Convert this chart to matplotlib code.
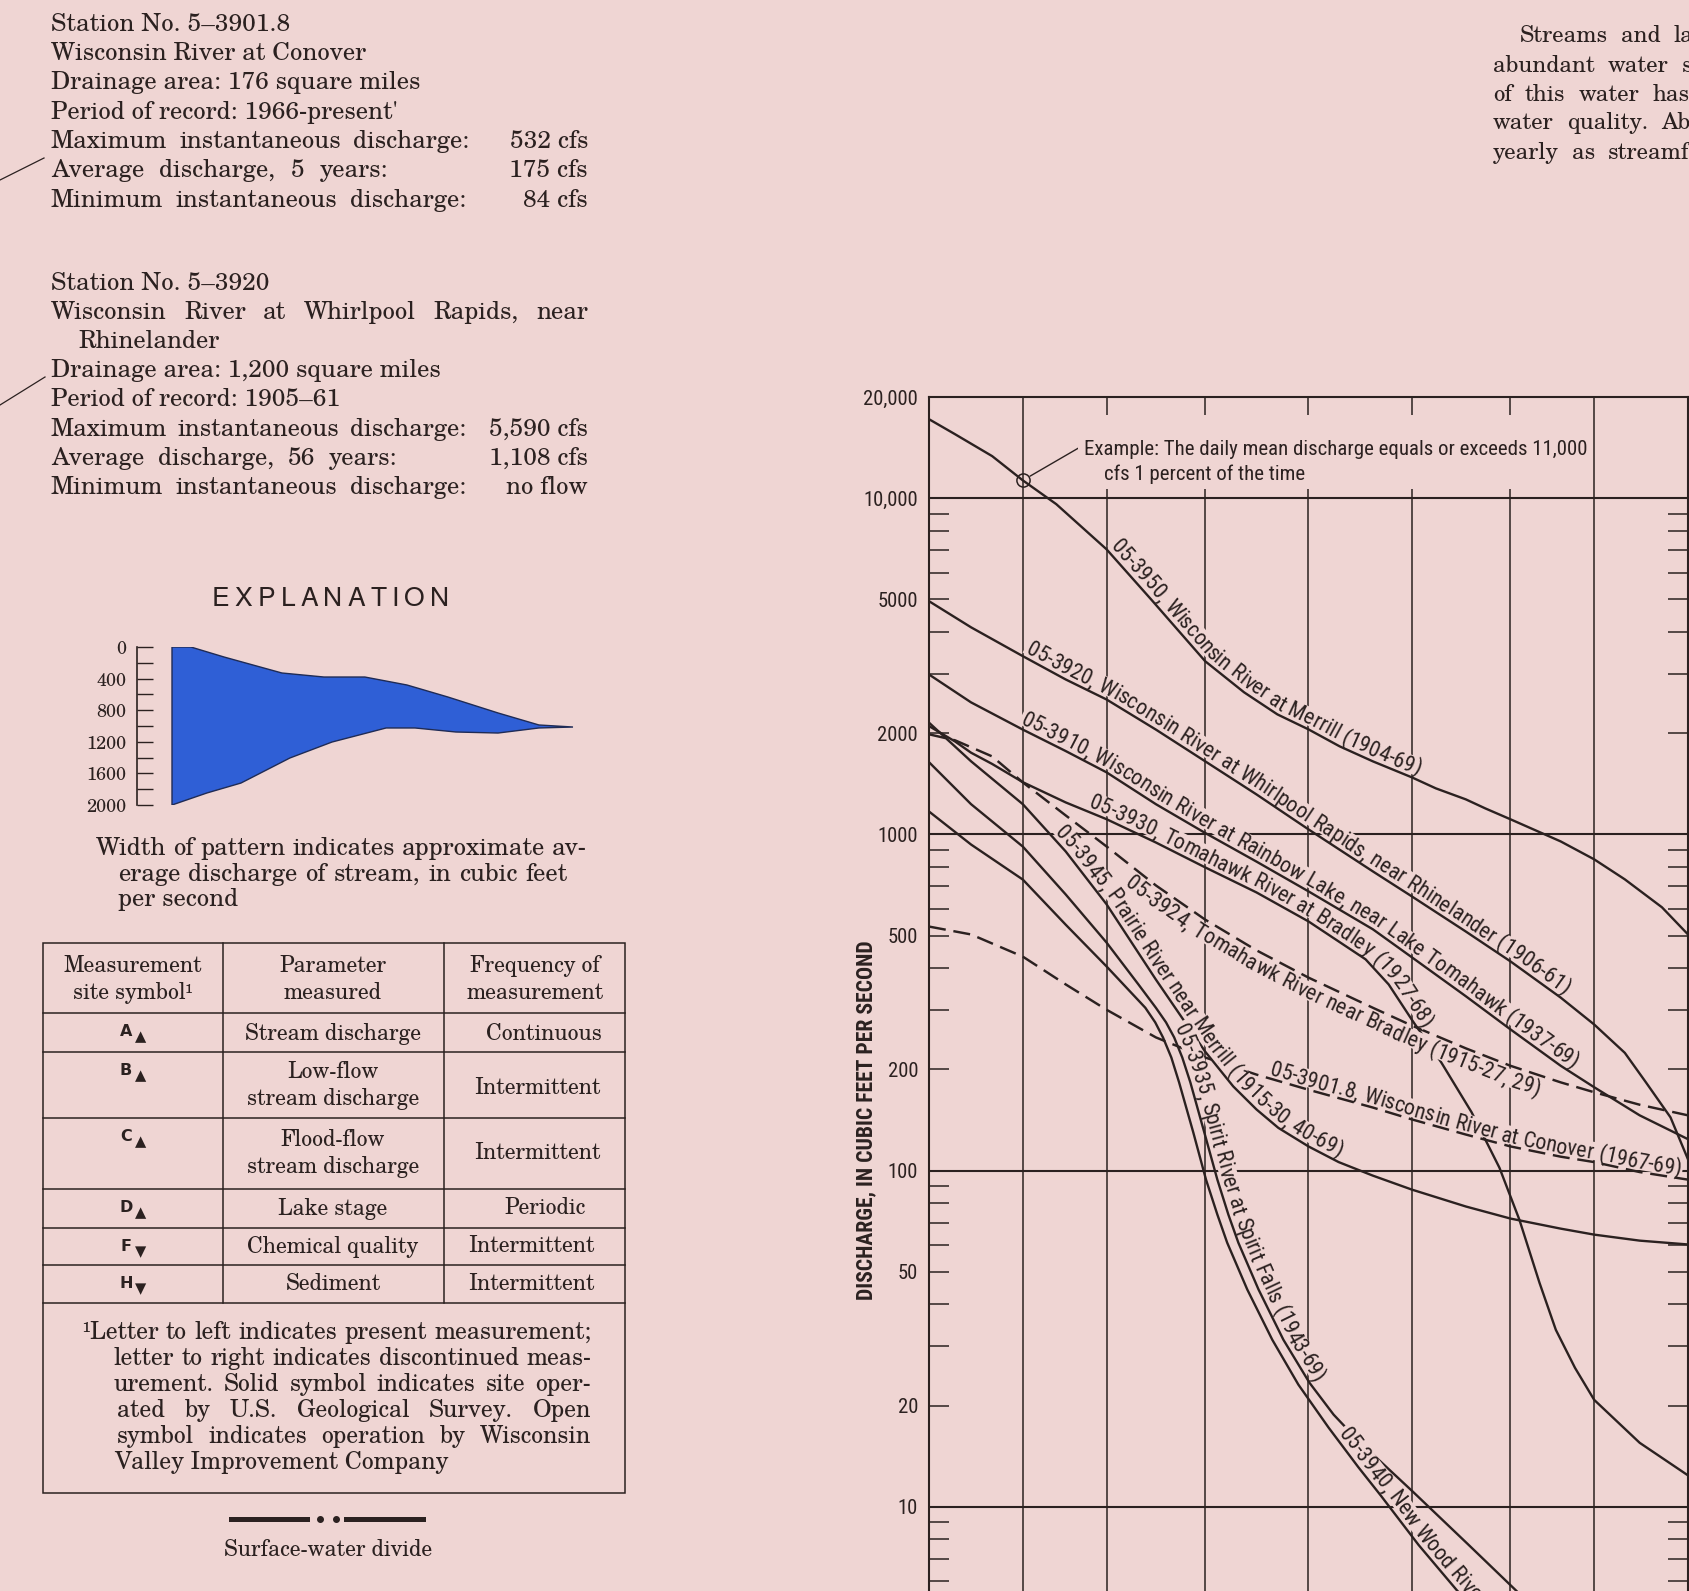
import math
import numpy as np
import matplotlib
matplotlib.use('Agg')
import matplotlib.pyplot as plt
from matplotlib import font_manager as fm
from matplotlib.font_manager import FontProperties
from matplotlib.lines import Line2D
from matplotlib.patches import Rectangle, Polygon
from matplotlib.ticker import LogLocator, NullFormatter, NullLocator

W, H = 1690, 1591
BG = '#efd5d3'
INK = '#2b2120'
BLUE = '#2f5fd6'

# ---------------- chart data ----------------
# percent of time discharge equalled or exceeded  /  daily mean discharge (cfs)
grid_pct = [1, 5, 20, 50, 80, 95, 99]
ytick_vals = [10, 20, 50, 100, 200, 500, 1000, 2000, 5000, 10000, 20000]
ytick_labels = ['10', '20', '50', '100', '200', '500', '1000', '2000', '5000', '10,000', '20,000']

pct_3950 = [0.1, 0.2, 0.5, 1, 2, 5, 10, 20, 30, 40, 50, 60, 70, 80, 85, 90, 92.5, 95, 98, 99, 99.5, 99.8, 99.9]
q_3950 = [17180, 15500, 13340, 11300, 9600, 7050, 5000, 3275, 2646, 2275, 2053, 1828, 1649, 1478, 1371, 1271, 1195,
          1109, 953, 843, 735, 607, 504]

pct_3920 = [0.1, 0.3, 1, 2.4, 5, 10.7, 20, 33.6, 50, 70, 80, 90, 95, 98, 99, 99.5, 99.7, 99.84, 99.9]
q_3920 = [4940, 4130, 3390, 2890, 2520, 2050, 1650, 1315, 1035, 776, 654, 514, 419, 327, 272, 224, 183, 144, 108]

pct_3910 = [0.1, 0.3, 1, 2.4, 5, 10.7, 20, 33.6, 50, 70, 80, 90, 95, 98, 99, 99.65, 99.9]
q_3910 = [2990, 2470, 2050, 1770, 1530, 1230, 1010, 830, 677, 522, 431, 330, 263, 205, 177, 146, 124]

pct_3930 = [0.1, 0.2, 0.3, 0.5, 1, 2.4, 5, 10.7, 20, 33.6, 50, 67.9, 74.3, 80, 86, 90.8, 94, 95.7, 97, 97.8, 98.5,
            99, 99.65, 99.9]
q_3930 = [2100, 1890, 1750, 1620, 1430, 1245, 1110, 946, 798, 672, 551, 425, 358, 281, 210, 149, 102, 71.5, 46.4,
          33.6, 25.9, 20.8, 15.5, 12.4]

pct_3924 = [0.1, 0.2, 0.5, 1, 2.4, 5, 10.7, 20, 33.6, 50, 70, 80, 90, 95, 98, 99, 99.65, 99.9]
q_3924 = [1985, 1905, 1706, 1428, 1139, 921, 705, 558, 452, 375, 305, 270, 231, 205, 183, 171, 157, 146]

pct_3945 = [0.1, 0.3, 1, 2.4, 5, 10.7, 20, 27, 33.6, 40.3, 50, 59.7, 70, 80, 90, 95, 98, 99, 99.65, 99.9]
q_3945 = [2150, 1650, 1230, 890, 620, 370, 226, 178, 152, 134, 118, 106, 96.6, 87.8, 78.2, 72, 67.2, 64.5, 61.9,
          60.3]

pct_3935 = [0.1, 0.3, 1, 2.4, 5, 8.3, 10.7, 12.3, 13.7, 15.2, 16.8, 19.8, 22.9, 25.7, 28.4, 34.2, 41.9, 50.3, 58.1,
            65.8, 80.2, 90.4, 95.4, 97.5]
q_3935 = [1640, 1230, 920, 663, 477, 358, 305, 276, 249, 217, 183, 130, 94, 74, 61, 44.3, 31.4, 23.4, 18.8, 15.7,
          11.1, 7.7, 5.66, 4.5]

pct_3940 = [0.1, 0.3, 1, 2.4, 5, 9.2, 10.6, 11.8, 13.2, 14.6, 17.4, 20.2, 22.9, 25.4, 30.9, 38.4, 46.7, 56.5, 65.8,
            72.2, 81.5, 88.6, 93]
q_3940 = [1170, 933, 734, 539, 405, 305, 276, 249, 217, 183, 130, 94, 74, 61, 44.3, 31.4, 23.1, 17.2, 13.1, 10.8,
          7.7, 5.66, 4.4]

pct_3901 = [0.1, 0.3, 1, 2.4, 5, 10.7, 20, 33.6, 50, 70, 80, 90, 95, 98, 99, 99.65, 99.9]
q_3901 = [532, 504, 433, 358, 301, 249, 217, 193, 174, 154, 142, 128, 118, 110, 106, 99, 94]

example_pct, example_q = 1, 11300

# explanation pattern (width of stream, in cfs on the scale)
pat_x_top = [0, 0.047, 0.13, 0.274, 0.379, 0.481, 0.586, 0.688, 0.813, 0.915, 1.0]
pat_top = [0, 0, 127, 329, 380, 380, 481, 633, 835, 987, 1013]
pat_x_bot = [0, 0.087, 0.172, 0.294, 0.399, 0.534, 0.606, 0.708, 0.813, 0.915, 1.0]
pat_bot = [2000, 1848, 1722, 1405, 1203, 1025, 1025, 1076, 1089, 1025, 1013]
scale_major = [0, 400, 800, 1200, 1600, 2000]
scale_minor = [200, 600, 1000, 1400, 1800]

# ---------------- probability scale ----------------
A_ = [-3.969683028665376e+01, 2.209460984245205e+02, -2.759285104469687e+02,
      1.383577518672690e+02, -3.066479806614716e+01, 2.506628277459239e+00]
B_ = [-5.447609879822406e+01, 1.615858368580409e+02, -1.556989798598866e+02,
      6.680131188771972e+01, -1.328068155288572e+01]
C_ = [-7.784894002430293e-03, -3.223964580411365e-01, -2.400758277161838e+00,
      -2.549671010422504e+00, 4.374664141464968e+00, 2.938163982698783e+00]
D_ = [7.784695709041462e-03, 3.224671290700398e-01, 2.445134137142996e+00, 3.754408661907416e+00]
PLOW = 0.02425


def ppf(p):
    p = np.clip(np.asarray(p, dtype=float), 1e-10, 1 - 1e-10)
    shape = p.shape
    p = np.atleast_1d(p).ravel()
    out = np.zeros_like(p)
    lo = p < PLOW
    hi = p > 1 - PLOW
    mid = ~(lo | hi)
    q = p[mid] - 0.5
    r = q * q
    out[mid] = ((((((A_[0] * r + A_[1]) * r + A_[2]) * r + A_[3]) * r + A_[4]) * r + A_[5]) * q /
                (((((B_[0] * r + B_[1]) * r + B_[2]) * r + B_[3]) * r + B_[4]) * r + 1))
    for mask, sgn, pp in ((lo, 1, p[lo]), (hi, -1, 1 - p[hi])):
        qq = np.sqrt(-2 * np.log(pp))
        out[mask] = sgn * ((((((C_[0] * qq + C_[1]) * qq + C_[2]) * qq + C_[3]) * qq + C_[4]) * qq + C_[5]) /
                           ((((D_[0] * qq + D_[1]) * qq + D_[2]) * qq + D_[3]) * qq + 1))
    return out.reshape(shape)


erfc_v = np.vectorize(math.erfc, otypes=[float])


def fwd(x):
    return ppf(np.asarray(x, dtype=float) / 100.0)


def inv(z):
    return 100.0 * 0.5 * erfc_v(-np.asarray(z, dtype=float) / math.sqrt(2))


# ---------------- fonts ----------------
fig = plt.figure(figsize=(W / 100, H / 100), dpi=100, facecolor=BG)
renderer = fig.canvas.get_renderer()

names = sorted({f.name for f in fm.fontManager.ttflist})


def pick(cands, default):
    for c in cands:
        if c in names:
            return c
    return default


COND = pick(['Roboto Condensed', 'Liberation Sans Narrow', 'Archivo Narrow', 'PT Sans Narrow'], 'DejaVu Sans')
SERIF = pick(['TeX Gyre Schola', 'C059', 'Century Schoolbook L', 'DejaVu Serif'], 'DejaVu Serif')
SANS = pick(['TeX Gyre Heros', 'Nimbus Sans', 'Liberation Sans'], 'DejaVu Sans')


def fp(family, size, weight='normal'):
    return FontProperties(family=family, size=size, weight=weight)


def tw(s, prop):
    return renderer.get_text_width_height_descent(s, prop, ismath=False)[0]


def cap_h(prop):
    return renderer.get_text_width_height_descent('H', prop, ismath=False)[1]


def fit(s, family, target, weight='normal'):
    return 20.0 * target / tw(s, fp(family, 20, weight))


def put(x, y, s, prop, ha='left', va='baseline', **kw):
    return fig.text(x / W, 1 - y / H, s, fontproperties=prop, ha=ha, va=va, color=INK, **kw)


def justify(words, x0, x1, y, prop):
    widths = [tw(w, prop) for w in words]
    space = tw('a a', prop) - tw('aa', prop)
    gap = space
    if len(words) > 1:
        gap = max(space, (x1 - x0 - sum(widths)) / (len(words) - 1))
    x = x0
    for w, wd in zip(words, widths):
        put(x, y, w, prop)
        x += wd + gap


# ---------------- main chart ----------------
ax = fig.add_axes([929 / W, 1 - 1843 / H, (1688 - 929) / W, (1843 - 397) / H])
ax.set_facecolor('none')
ax.set_xscale('function', functions=(fwd, inv))
ax.set_yscale('log')
ax.set_xlim(0.1, 99.9)
ax.set_ylim(1, 20000)

for p in grid_pct:
    ax.axvline(p, color=INK, lw=1.1, zorder=1)
for v in [10, 100, 1000, 10000]:
    ax.axhline(v, color=INK, lw=1.5, zorder=1)

solid = [(pct_3950, q_3950), (pct_3920, q_3920), (pct_3910, q_3910), (pct_3930, q_3930),
         (pct_3945, q_3945), (pct_3935, q_3935), (pct_3940, q_3940)]
dashed = [(pct_3924, q_3924), (pct_3901, q_3901)]
for pc, q in solid:
    ax.plot(pc, q, color=INK, lw=1.7, solid_joinstyle='round', zorder=2)
for pc, q in dashed:
    ax.plot(pc, q, color=INK, lw=1.75, dashes=(7, 3.2), zorder=2)

ax.plot([example_pct], [example_q], marker='o', ms=9.5, mfc='none', mec=INK, mew=1.1, zorder=4)
ax.annotate('', xy=(example_pct, example_q), xycoords='data', xytext=(1082 / W, 1 - 446 / H),
            textcoords='figure fraction',
            arrowprops=dict(arrowstyle='-', color=INK, lw=1.0, shrinkA=0, shrinkB=6))

for s in ['left', 'right', 'top']:
    ax.spines[s].set_color(INK)
    ax.spines[s].set_linewidth(1.5)
ax.spines['bottom'].set_visible(False)

tick_fs = fit('20,000', COND, 55)
tick_prop = fp(COND, tick_fs)
ax.set_xticks([])
ax.xaxis.set_minor_locator(NullLocator())
ax.set_yticks(ytick_vals, labels=ytick_labels, fontproperties=tick_prop, color=INK)
ax.yaxis.set_minor_locator(LogLocator(base=10, subs=np.arange(2, 10), numticks=60))
ax.yaxis.set_minor_formatter(NullFormatter())
ax.tick_params(axis='y', which='both', direction='in', left=True, right=True, length=14.4, width=1.1, color=INK)
ax.tick_params(axis='y', which='major', pad=7.9)

ylab_fs = fit('DISCHARGE, IN CUBIC FEET PER SECOND', COND, 359, weight='bold')
put(866, 1120, 'DISCHARGE, IN CUBIC FEET PER SECOND', fp(COND, ylab_fs, 'bold'),
    ha='center', va='center', rotation=90)

# example note
ex_fs = fit('Example: The daily mean discharge equals or exceeds 11,000', COND, 503)
ex_prop = fp(COND, ex_fs)
fig.add_artist(Rectangle((1078 / W, 1 - 489 / H), 512 / W, 74 / H, transform=fig.transFigure,
                         fc=BG, ec='none', zorder=2.5))
put(1084, 455, 'Example: The daily mean discharge equals or exceeds 11,000', ex_prop, zorder=4)
put(1104, 480, 'cfs 1 percent of the time', ex_prop, zorder=4)

# curve labels written along the curves
lab_fs = fit('05-3950, Wisconsin River at Merrill (1904-69)', COND, 392)
lab_prop = fp(COND, lab_fs)
LCAP = cap_h(lab_prop)


def curve_label(pc, q, label, start, side, gap=4.0):
    pts = ax.transData.transform(np.column_stack([pc, q]))
    d = np.hypot(np.diff(pts[:, 0]), np.diff(pts[:, 1]))
    s = np.concatenate([[0.0], np.cumsum(d)])
    x_start = ax.transData.transform([[start, 100.0]])[0, 0]
    s0 = np.interp(x_start, pts[:, 0], s)

    def pos(sv):
        return np.interp(sv, s, pts[:, 0]), np.interp(sv, s, pts[:, 1])

    def frame(sv):
        xa, ya = pos(sv - 10)
        xb, yb = pos(sv + 10)
        a = math.atan2(yb - ya, xb - xa)
        return a, -math.sin(a), math.cos(a)

    wx = tw('x', lab_prop)
    adv = [0.0] + [tw(label[:i] + 'x', lab_prop) - wx for i in range(1, len(label) + 1)]
    off = gap if side > 0 else -(gap + LCAP)
    mid = off + LCAP / 2
    sx, sy = [], []
    for sv in np.arange(s0 - 2, s0 + adv[-1] + 3, 2.0):
        px, py = pos(sv)
        a, nx, ny = frame(sv)
        sx.append((px + nx * mid) / W)
        sy.append((py + ny * mid) / H)
    fig.add_artist(Line2D(sx, sy, transform=fig.transFigure, color=BG, lw=(LCAP + 2) * 0.72,
                          solid_capstyle='butt', solid_joinstyle='round', zorder=3))
    for i, ch in enumerate(label):
        if ch == ' ':
            continue
        sc = s0 + (adv[i] + adv[i + 1]) / 2
        px, py = pos(sc)
        a, nx, ny = frame(sc)
        fig.text((px + nx * off) / W, (py + ny * off) / H, ch, rotation=math.degrees(a),
                 rotation_mode='anchor', ha='center', va='baseline', fontproperties=lab_prop,
                 color=INK, zorder=5)


curve_label(pct_3950, q_3950, '05-3950, Wisconsin River at Merrill (1904-69)', 5.0, 1)
curve_label(pct_3920, q_3920, '05-3920, Wisconsin River at Whirlpool Rapids, near Rhinelander (1906-61)', 1.0, 1)
curve_label(pct_3910, q_3910, '05-3910, Wisconsin River at Rainbow Lake, near Lake Tomahawk (1937-69)', 0.9, 1)
curve_label(pct_3930, q_3930, '05-3930, Tomahawk River at Bradley (1927-68)', 3.5, 1)
curve_label(pct_3924, q_3924, '05-3924, Tomahawk River near Bradley (1915-27, 29)', 8.0, -1)
curve_label(pct_3945, q_3945, '05-3945, Prairie River near Merrill (1915-30, 40-69)', 1.8, 1)
curve_label(pct_3935, q_3935, '05-3935, Spirit River at Spirit Falls (1943-69)', 13.0, 1)
curve_label(pct_3940, q_3940, '05-3940, New Wood River', 58.5, 1)
curve_label(pct_3901, q_3901, '05-3901.8, Wisconsin River at Conover (1967-69)', 37, 1, gap=3.0)

# ---------------- left column text ----------------
serif_fs = fit('Drainage area: 176 square miles', SERIF, 369)
sp = fp(SERIF, serif_fs)
scap = cap_h(sp)


def line(y, text, x0=51, x1=None, value=None):
    base = y + scap / 2
    if x1 is None:
        put(x0, base, text, sp)
    else:
        justify(text.split(), x0, x1, base, sp)
    if value:
        put(588, base, value, sp, ha='right')


line(21.7, 'Station No. 5–3901.8')
line(51, 'Wisconsin River at Conover')
line(80.3, 'Drainage area: 176 square miles')
line(109.7, "Period of record: 1966-present'")
line(139, 'Maximum instantaneous discharge:', x1=469, value='532 cfs')
line(168.3, 'Average discharge, 5 years:', x1=388, value='175 cfs')
line(197.7, 'Minimum instantaneous discharge:', x1=466, value='84 cfs')

line(281, 'Station No. 5–3920')
line(310, 'Wisconsin River at Whirlpool Rapids, near', x1=588)
line(339, 'Rhinelander', x0=78)
line(368, 'Drainage area: 1,200 square miles')
line(397, 'Period of record: 1905–61')
line(427, 'Maximum instantaneous discharge:', x1=466, value='5,590 cfs')
line(456, 'Average discharge, 56 years:', x1=397, value='1,108 cfs')
line(485, 'Minimum instantaneous discharge:', x1=466, value='no flow')

fig.add_artist(Line2D([0, 44 / W], [1 - 180 / H, 1 - 158 / H], transform=fig.transFigure, color=INK, lw=0.9))
fig.add_artist(Line2D([0, 45 / W], [1 - 405 / H, 1 - 377 / H], transform=fig.transFigure, color=INK, lw=0.9))

# top right paragraph (runs off the page)
trp = fp(SERIF, serif_fs * 0.93)
for y, x0, words in [(33, 1520, 'Streams and lakes in'), (63, 1493, 'abundant water supply'),
                     (92, 1493, 'of this water has'), (120, 1493, 'water quality. About'),
                     (150, 1493, 'yearly as streamflow')]:
    x = x0
    for w in words.split():
        put(x, y + scap / 2, w, trp)
        x += tw(w, trp) + 13

# ---------------- explanation ----------------
ep = fp(SANS, 19)
letters = 'EXPLANATION'
wx_ = tw('x', ep)
adv_e = [0.0] + [tw(letters[:i] + 'x', ep) - wx_ for i in range(1, len(letters) + 1)]
track = (237 - adv_e[-1]) / (len(letters) - 1)
for i, ch in enumerate(letters):
    put(212 + adv_e[i] + i * track, 597 + cap_h(ep) / 2, ch, ep)

ax2 = fig.add_axes([137 / W, 1 - 805 / H, (600 - 137) / W, (805 - 647) / H])
ax2.set_facecolor('none')
ax2.set_xlim(-35 / 401, (600 - 172) / 401)
ax2.set_ylim(2000, 0)
verts = list(zip(pat_x_top, pat_top)) + list(zip(pat_x_bot[::-1], pat_bot[::-1]))
ax2.add_patch(Polygon(verts, closed=True, fc=BLUE, ec='#1f2b55', lw=1.0))
for s in ['right', 'top', 'bottom']:
    ax2.spines[s].set_visible(False)
ax2.spines['left'].set_color(INK)
ax2.spines['left'].set_linewidth(1.2)
ax2.set_xticks([])
sc_fs = fit('2000', SERIF, 40)
ax2.set_yticks(scale_major, labels=[str(v) for v in scale_major], fontproperties=fp(SERIF, sc_fs), color=INK)
ax2.set_yticks(scale_minor, minor=True)
ax2.tick_params(axis='y', which='both', direction='in', length=11.5, width=1.0, color=INK, pad=7.9)

justify('Width of pattern indicates approximate av-'.split(), 96, 568, 846 + scap / 2, sp)
justify('erage discharge of stream, in cubic feet'.split(), 118, 568, 872 + scap / 2, sp)
put(118, 897 + scap / 2, 'per second', sp)

# ---------------- table ----------------
tab_fs = fit('Stream discharge', SERIF, 177)
tp = fp(SERIF, tab_fs)
tcap = cap_h(tp)
fig.add_artist(Rectangle((43 / W, 1 - 1493 / H), 582 / W, 550 / H, transform=fig.transFigure,
                         fill=False, ec=INK, lw=1.1))
for yy in [1013, 1052, 1118, 1189, 1228, 1265, 1303]:
    fig.add_artist(Line2D([43 / W, 625 / W], [1 - yy / H] * 2, transform=fig.transFigure, color=INK, lw=1.1))
for xx in [223, 444]:
    fig.add_artist(Line2D([xx / W] * 2, [1 - 943 / H, 1 - 1303 / H], transform=fig.transFigure, color=INK, lw=1.1))


def cell(x, y, s, ha='center'):
    put(x, y + tcap / 2, s, tp, ha=ha)


cell(133, 963.5, 'Measurement')
cell(133, 990.7, 'site symbol¹')
cell(333, 963.5, 'Parameter')
cell(333, 990.7, 'measured')
cell(535, 963.5, 'Frequency of')
cell(535, 990.7, 'measurement')

rows = [(1013, 'A', '▲', ['Stream discharge'], [1031.7], 'Continuous', 1031.7, 544),
        (1052, 'B', '▲', ['Low-flow', 'stream discharge'], [1070, 1096], 'Intermittent', 1085, 537),
        (1118, 'C', '▲', ['Flood-flow', 'stream discharge'], [1138, 1164], 'Intermittent', 1150.5, 537),
        (1189, 'D', '▲', ['Lake stage'], [1206], 'Periodic', 1206, 545),
        (1228, 'F', '▼', ['Chemical quality'], [1244], 'Intermittent', 1244, 531),
        (1265, 'H', '▼', ['Sediment'], [1281.5], 'Intermittent', 1281.5, 531)]
sym_prop = fp('DejaVu Sans', 11.5, 'bold')
tri_prop = fp('DejaVu Sans', 10.5)
for top, letter, tri, params, py, freq, fy, fx in rows:
    put(126, top + 23, letter, sym_prop, ha='center')
    put(141, top + 28, tri, tri_prop, ha='center')
    for t, yy in zip(params, py):
        cell(333, yy, t)
    cell(fx, fy, freq)

foot_fs = fit('Letter to left indicates present measurement;', SERIF, 498)
fp_ = fp(SERIF, foot_fs)
fcap = cap_h(fp_)
justify('¹Letter to left indicates present measurement;'.split(), 82, 591, 1329.6 + fcap / 2, fp_)
justify('letter to right indicates discontinued meas-'.split(), 114, 591, 1356 + fcap / 2, fp_)
justify('urement.  Solid symbol indicates site oper-'.split(), 114, 591, 1382 + fcap / 2, fp_)
justify('ated by U.S. Geological Survey.  Open'.split(), 117, 591, 1408 + fcap / 2, fp_)
justify('symbol indicates operation by Wisconsin'.split(), 117, 591, 1434 + fcap / 2, fp_)
put(114, 1460 + fcap / 2, 'Valley Improvement Company', fp_)

# surface-water divide symbol
for xa, xb in [(231, 307), (346, 423)]:
    fig.add_artist(Line2D([xa / W, xb / W], [1 - 1519 / H] * 2, transform=fig.transFigure, color=INK, lw=3.6))
fig.add_artist(Line2D([320 / W, 336 / W], [1 - 1519 / H] * 2, transform=fig.transFigure, color=INK,
                      ls='none', marker='o', ms=4))
put(328, 1548 + tcap / 2, 'Surface-water divide', tp, ha='center')

fig.savefig('out.png', dpi=100, facecolor=BG)
